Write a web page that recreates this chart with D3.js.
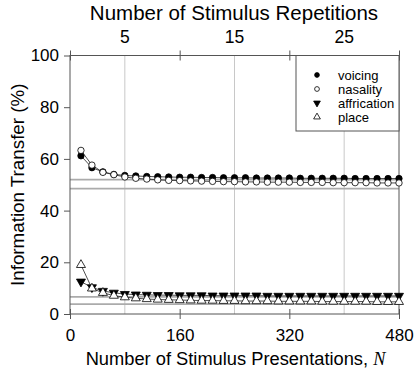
<!DOCTYPE html>
<html>
<head>
<meta charset="utf-8">
<script src="https://cdn.jsdelivr.net/npm/d3@7"></script>
<style>
  body { margin: 0; background: #fff; }
  text { font-family: "Liberation Sans", Arial, sans-serif; }
</style>
</head>
<body>
<div id="chart-area"></div>
<script>
const W = 420, H = 382
const MARGIN = { LEFT: 70, RIGHT: 21, TOP: 55.5, BOTTOM: 68 }

// number of stimulus presentations (16 per repetition)
const presentations = d3.range(1, 31).map(k => k * 16)

const voicing = [61.2, 56.6, 55.0, 54.0, 53.6, 53.4, 53.2, 53.1, 53.0, 52.9,
  52.9, 52.8, 52.8, 52.7, 52.7, 52.7, 52.6, 52.6, 52.6, 52.6,
  52.5, 52.5, 52.5, 52.5, 52.5, 52.4, 52.4, 52.4, 52.4, 52.4]
const nasality = [63.3, 57.6, 54.8, 53.9, 53.0, 52.5, 52.2, 51.9, 51.7, 51.6,
  51.5, 51.4, 51.3, 51.2, 51.2, 51.1, 51.1, 51.0, 51.0, 51.0,
  50.9, 50.9, 50.9, 50.8, 50.8, 50.8, 50.8, 50.7, 50.7, 50.7]
const affrication = [12.5, 10.3, 8.9, 8.2, 7.7, 7.5, 7.4, 7.3, 7.3, 7.2,
  7.2, 7.2, 7.1, 7.1, 7.1, 7.1, 7.1, 7.0, 7.0, 7.0,
  7.0, 7.0, 7.0, 7.0, 7.0, 7.0, 7.0, 7.0, 7.0, 7.0]
const place = [19.0, 9.9, 8.2, 7.1, 6.5, 6.1, 5.8, 5.6, 5.5, 5.4,
  5.3, 5.2, 5.2, 5.1, 5.1, 5.0, 5.0, 5.0, 4.9, 4.9,
  4.9, 4.9, 4.8, 4.8, 4.8, 4.8, 4.8, 4.7, 4.7, 4.7]

// horizontal reference levels
const refLines = [52.0, 48.5, 6.6, 3.8]

const xTicks = [0, 160, 320, 480]
const repTicks = [5, 15, 25]
const yTicks = [0, 20, 40, 60, 80, 100]

const series = [
  { name: "voicing", values: voicing, shape: "circle", fill: "#000" },
  { name: "nasality", values: nasality, shape: "circle", fill: "#fff" },
  { name: "affrication", values: affrication, shape: "down", fill: "#000" },
  { name: "place", values: place, shape: "up", fill: "#fff" }
]

const x = d3.scaleLinear().domain([0, 480]).range([MARGIN.LEFT, W - MARGIN.RIGHT])
const xRep = d3.scaleLinear().domain([0, 30]).range([MARGIN.LEFT, W - MARGIN.RIGHT])
const y = d3.scaleLinear().domain([0, 100]).range([H - MARGIN.BOTTOM, MARGIN.TOP])

const svg = d3.select("#chart-area").append("svg")
  .attr("width", W)
  .attr("height", H)

// vertical grid at 5, 15, 25 repetitions
svg.append("g")
  .selectAll("line")
  .data(repTicks)
  .join("line")
    .attr("x1", d => xRep(d)).attr("x2", d => xRep(d))
    .attr("y1", y(100)).attr("y2", y(0))
    .attr("stroke", "#c8c8c8")
    .attr("stroke-width", 1)

// reference levels
svg.append("g")
  .selectAll("line")
  .data(refLines)
  .join("line")
    .attr("x1", x(0)).attr("x2", x(480))
    .attr("y1", d => y(d)).attr("y2", d => y(d))
    .attr("stroke", "#ababab")
    .attr("stroke-width", 1.8)

// frame
svg.append("rect")
  .attr("x", x(0)).attr("y", y(100))
  .attr("width", x(480) - x(0)).attr("height", y(0) - y(100))
  .attr("fill", "none")
  .attr("stroke", "#555")
  .attr("stroke-width", 1)

// bottom axis
const xAxis = g => g
  .attr("transform", `translate(0,${y(0)})`)
  .call(d3.axisBottom(x).tickValues(xTicks).tickSize(5).tickPadding(10))
  .call(g => g.select(".domain").remove())
  .call(g => g.selectAll(".tick line").attr("y1", -5).attr("stroke", "#555"))
  .call(g => g.selectAll(".tick text").attr("font-size", 17).attr("fill", "#000")
    .attr("font-family", "Liberation Sans, Arial, sans-serif"))

// top axis
const topAxis = g => g
  .attr("transform", `translate(0,${y(100)})`)
  .call(d3.axisTop(x).tickValues(xTicks).tickSize(5).tickFormat(""))
  .call(g => g.select(".domain").remove())
  .call(g => g.selectAll(".tick line").attr("y1", 5).attr("stroke", "#555"))
  .call(g => g.append("g").selectAll("text")
    .data(repTicks)
    .join("text")
      .attr("x", d => xRep(d))
      .attr("y", -13)
      .attr("text-anchor", "middle")
      .attr("font-size", 17.5)
      .attr("fill", "#000")
      .text(d => d))

const yAxis = g => g
  .attr("transform", `translate(${x(0)},0)`)
  .call(d3.axisLeft(y).tickValues(yTicks).tickSize(6).tickPadding(5))
  .call(g => g.select(".domain").remove())
  .call(g => g.selectAll(".tick line").attr("stroke", "#555"))
  .call(g => g.selectAll(".tick text").attr("font-size", 17).attr("fill", "#000")
    .attr("font-family", "Liberation Sans, Arial, sans-serif"))

svg.append("g").call(xAxis)
svg.append("g").call(topAxis)
svg.append("g").call(yAxis)

// axis titles
svg.append("text")
  .attr("x", (x(0) + x(480)) / 2 - 0.5)
  .attr("y", 20)
  .attr("text-anchor", "middle")
  .attr("font-size", 20.5)
  .text("Number of Stimulus Repetitions")

const xTitle = svg.append("text")
  .attr("x", (x(0) + x(480)) / 2 + 1)
  .attr("y", 365)
  .attr("text-anchor", "middle")
  .attr("font-size", 18.3)
xTitle.append("tspan").text("Number of Stimulus Presentations, ")
xTitle.append("tspan")
  .attr("font-family", "Liberation Serif, serif")
  .attr("font-style", "italic")
  .text("N")

svg.append("text")
  .attr("transform", `translate(24,${(y(0) + y(100)) / 2}) rotate(-90)`)
  .attr("text-anchor", "middle")
  .attr("font-size", 18.8)
  .text("Information Transfer (%)")

// marker shapes
const symbol = (shape, s) => {
  if (shape === "circle") return d3.symbol(d3.symbolCircle, s)()
  return d3.symbol(d3.symbolTriangle, s * 1.1)()
}

const line = d3.line()
  .x((d, i) => x(presentations[i]))
  .y(d => y(d))

series.forEach(s => {
  svg.append("path")
    .attr("fill", "none")
    .attr("stroke", "#222")
    .attr("stroke-width", 0.8)
    .attr("d", line(s.values))

  svg.append("g")
    .selectAll("path")
    .data(s.values)
    .join("path")
      .attr("transform", (d, i) => `translate(${x(presentations[i])},${y(d)})` + (s.shape === "down" ? " rotate(180)" : ""))
      .attr("d", symbol(s.shape, 32))
      .attr("fill", s.fill)
      .attr("stroke", "#000")
      .attr("stroke-width", 0.8)
})

// legend
const legend = svg.append("g")
legend.append("rect")
  .attr("x", 296).attr("y", y(100))
  .attr("width", x(480) - 296).attr("height", 131 - y(100))
  .attr("fill", "#fff")
  .attr("stroke", "#555")
  .attr("stroke-width", 1)

legend.selectAll("g")
  .data(series)
  .join("g")
    .attr("transform", (d, i) => `translate(317,${75 + i * 14})`)
    .call(g => g.append("path")
      .attr("transform", d => d.shape === "down" ? "rotate(180)" : null)
      .attr("d", d => symbol(d.shape, 18))
      .attr("fill", d => d.fill)
      .attr("stroke", "#000")
      .attr("stroke-width", 0.8))
    .call(g => g.append("text")
      .attr("x", 21)
      .attr("dy", "0.35em")
      .attr("font-size", 13)
      .text(d => d.name))
</script>
</body>
</html>
